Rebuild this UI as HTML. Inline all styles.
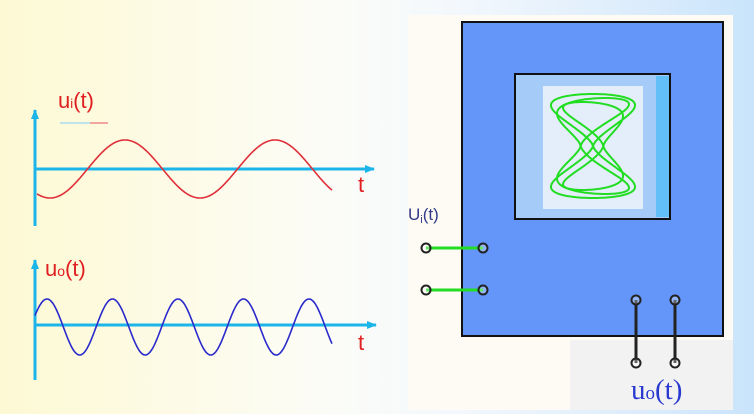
<!DOCTYPE html>
<html><head><meta charset="utf-8"><style>
html,body{margin:0;padding:0}
body{width:754px;height:414px;overflow:hidden;background:linear-gradient(90deg,#fdf9d4 0%,#fdfbe8 25%,#fbfcf8 45%,#f4f8fd 60%,#dcecfc 85%,#c9e4fb 100%);font-family:"Liberation Sans",sans-serif;position:relative}
</style></head><body>
<div style="position:absolute;left:408px;top:15px;width:325px;height:395px;background:#fdfbf3"></div>
<div style="position:absolute;left:570px;top:340px;width:163px;height:70px;background:#f2f2f2"></div>
<svg width="754" height="414" style="position:absolute;left:0;top:0">
<defs><marker id="a" markerWidth="10" markerHeight="8" refX="9" refY="4" orient="auto" markerUnits="userSpaceOnUse"><path d="M0,0 L10,4 L0,8 z" fill="#1bb5ea"/></marker></defs>
<g stroke="#1bb5ea" stroke-width="3" fill="none">
<line x1="35" y1="226" x2="35" y2="110" marker-end="url(#a)"/>
<line x1="35" y1="169" x2="374" y2="169" marker-end="url(#a)"/>
<line x1="35" y1="380" x2="35" y2="260" marker-end="url(#a)"/>
<line x1="35" y1="325" x2="376" y2="325" marker-end="url(#a)"/>
</g>
<line x1="60" y1="123" x2="90" y2="123" stroke="#a8dcef" stroke-width="1.5"/>
<line x1="90" y1="123" x2="108" y2="123" stroke="#e88" stroke-width="1.5"/>
<path id="red" stroke="#e0303a" stroke-width="1.6" fill="none"/>
<path id="blue" stroke="#2a2acc" stroke-width="1.6" fill="none"/>
<text x="58" y="108" fill="#e02020" font-size="22">u<tspan font-size="13">i</tspan>(t)</text>
<text x="45" y="276" fill="#e02020" font-size="22">u<tspan font-size="14">o</tspan>(t)</text>
<text x="358" y="192" fill="#e02020" font-size="22">t</text>
<text x="358" y="350" fill="#e02020" font-size="22">t</text>
<rect x="462" y="22" width="261" height="314" fill="#6495f8" stroke="#111" stroke-width="2"/>
<rect x="515" y="74" width="155" height="145" fill="#a5cbf8" stroke="#111" stroke-width="2"/>
<rect x="656" y="76" width="13" height="141" fill="#62bff8"/>
<rect x="543" y="86" width="100" height="123" fill="#e4eefa"/>
<path id="lis" stroke="#22dd22" stroke-width="2" fill="none"/>
<g stroke="#22dd22" stroke-width="3"><line x1="426" y1="248" x2="483" y2="248"/><line x1="426" y1="290" x2="483" y2="290"/></g>
<g stroke="#222" stroke-width="3"><line x1="636" y1="300" x2="636" y2="363"/><line x1="675" y1="300" x2="675" y2="363"/></g>
<g fill="#fff" fill-opacity="0.3" stroke="#222" stroke-width="2">
<circle cx="426" cy="248" r="4.5"/><circle cx="483" cy="248" r="4.5"/>
<circle cx="426" cy="290" r="4.5"/><circle cx="483" cy="290" r="4.5"/>
<circle cx="636" cy="300" r="4.5"/><circle cx="675" cy="300" r="4.5"/>
<circle cx="636" cy="363" r="4.5"/><circle cx="675" cy="363" r="4.5"/>
</g>
<text x="408" y="220" fill="#333a8a" font-size="17">U<tspan font-size="11" dy="3">i</tspan><tspan dy="-3">(t)</tspan></text>
<text x="631" y="399" fill="#2a3ad0" font-size="29" font-family="Liberation Serif,serif">u<tspan font-size="19">o</tspan>(t)</text>
</svg>
<script>
function wave(id,x0,x1,cx,amp,per,ph){let d="";for(let x=x0;x<=x1;x+=1){let y=cx-amp*Math.sin(2*Math.PI*(x-ph)/per);d+=(x==x0?"M":"L")+x+","+y.toFixed(1)+" ";}document.getElementById(id).setAttribute("d",d);}
wave("red",37,332,169,29,150,87.5);
wave("blue",35,332,327,28,65.5,30.6);
let d="";const curves=[[42,52,0],[30,44,0.35],[36,48,-0.35]];
for(const [ax,ay,p] of curves){for(let i=0;i<=600;i++){let t=i/600*2*Math.PI;let s=Math.sin(t);let y2=Math.sign(s)*Math.pow(Math.abs(s),0.7);
let x=593+ax*Math.sin(2*t+p);let y=146-ay*y2;d+=(i?"L":"M")+x.toFixed(1)+","+y.toFixed(1)+" ";}}
document.getElementById("lis").setAttribute("d",d);
</script>
</body></html>
